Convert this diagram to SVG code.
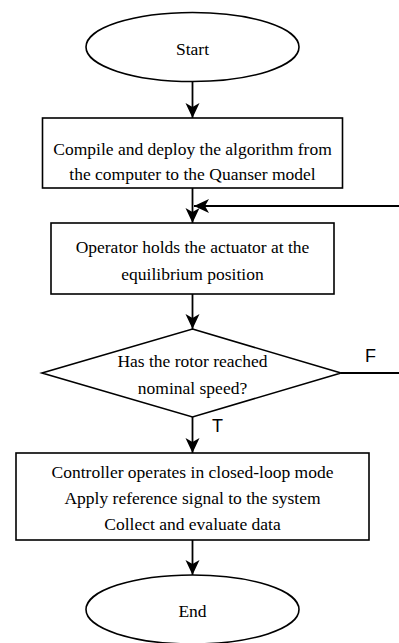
<svg xmlns="http://www.w3.org/2000/svg" width="399" height="643" viewBox="0 0 399 643">
<style>
.shape{fill:#fff;stroke:#000;stroke-width:1.6}
.conn{fill:none;stroke:#000;stroke-width:1.8}
.t{font-family:"Liberation Serif","Times New Roman",serif;font-size:17.5px;fill:#000;text-anchor:middle}
.lbl{font-family:"Liberation Sans",Arial,sans-serif;font-size:18px;fill:#000}
</style>
<defs>
<marker id="arr" markerUnits="userSpaceOnUse" markerWidth="17" markerHeight="15" refX="15" refY="7" orient="auto">
<path d="M0,0 L15,7 L0,14 L4,7 z" fill="#000"/>
</marker>
</defs>
<g id="connectors">
<line class="conn" x1="192.5" y1="81.5" x2="192.5" y2="118" marker-end="url(#arr)"/>
<line class="conn" x1="192.5" y1="188" x2="192.5" y2="223" marker-end="url(#arr)"/>
<line class="conn" x1="192.5" y1="294" x2="192.5" y2="329" marker-end="url(#arr)"/>
<line class="conn" x1="192.5" y1="417" x2="192.5" y2="453" marker-end="url(#arr)"/>
<line class="conn" x1="192.5" y1="540" x2="192.5" y2="575" marker-end="url(#arr)"/>
<path class="conn" d="M341,373 H402 V206 H194" marker-end="url(#arr)"/>
<text class="lbl" x="365" y="362">F</text>
<text class="lbl" x="212" y="432">T</text>
</g>
<g id="start">
<ellipse class="shape" cx="192.5" cy="47" rx="106.5" ry="34.5"/>
<text class="t" x="192.5" y="55">Start</text>
</g>
<g id="compile">
<rect class="shape" x="42.5" y="118" width="300" height="70"/>
<text class="t" x="192.5" y="155">Compile and deploy the algorithm from</text>
<text class="t" x="192.5" y="180">the computer to the Quanser model</text>
</g>
<g id="hold">
<rect class="shape" x="51" y="223" width="283" height="71"/>
<text class="t" x="192.5" y="253">Operator holds the actuator at the</text>
<text class="t" x="192.5" y="280">equilibrium position</text>
</g>
<g id="decision">
<polygon class="shape" points="192.5,329 341,373 192.5,417 42,373"/>
<text class="t" x="192.5" y="367">Has the rotor reached</text>
<text class="t" x="192.5" y="394">nominal speed?</text>
</g>
<g id="control">
<rect class="shape" x="16" y="453" width="353" height="87"/>
<text class="t" x="192.5" y="478">Controller operates in closed-loop mode</text>
<text class="t" x="192.5" y="504">Apply reference signal to the system</text>
<text class="t" x="192.5" y="530">Collect and evaluate data</text>
</g>
<g id="end">
<ellipse class="shape" cx="192.5" cy="609.5" rx="106.5" ry="34.5"/>
<text class="t" x="192.5" y="617">End</text>
</g>
</svg>
